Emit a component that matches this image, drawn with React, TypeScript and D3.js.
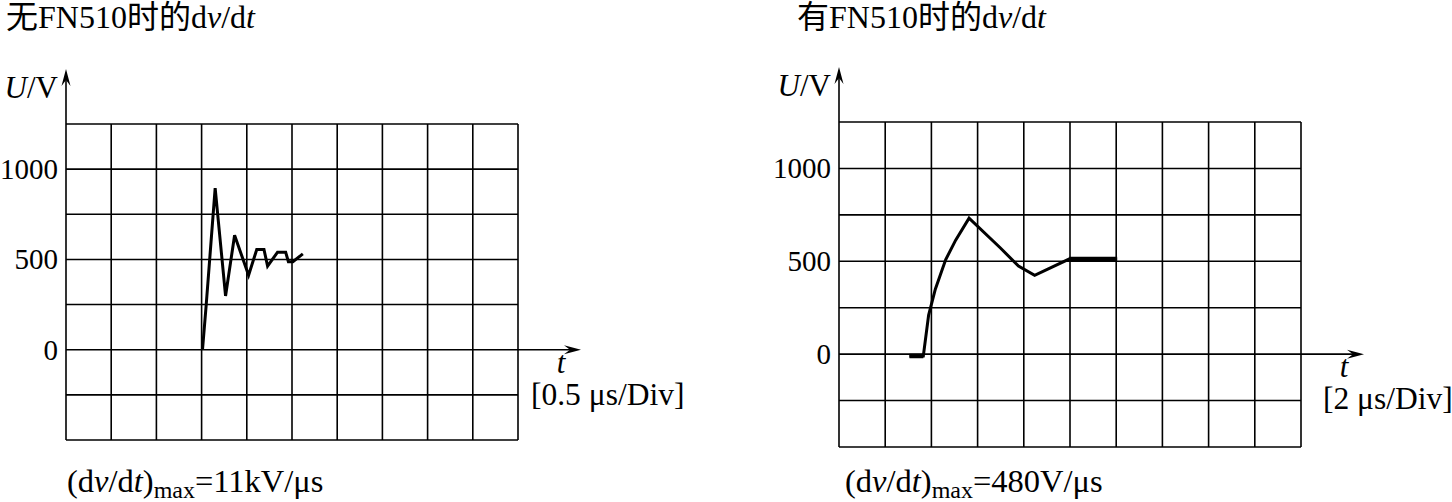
import React from 'react';
import * as d3 from 'd3';

// waveform without the filter (0.5 us/div)
const LEFT_T = [1.51, 1.55, 1.65, 1.765, 1.865, 2.02, 2.11, 2.19, 2.23, 2.34, 2.43, 2.46, 2.51, 2.62];
const LEFT_U = [0, 243, 895, 298, 634, 412, 555, 555, 463, 540, 540, 487, 487, 531];

// waveform with the filter (2 us/div)
const RIGHT_T = [3.05, 3.65, 3.88, 4.17, 4.37, 4.62, 5.05, 5.63, 7.0, 7.77, 8.47, 9.96, 12.04];
const RIGHT_U = [-10, -10, 210, 350, 421, 509, 614, 732, 570, 474, 424, 512, 512];

const Y_TICKS = [0, 500, 1000];
const Y_MIN = -500;
const Y_MAX = 1250;
const DIVS_X = 10;

const FONT = '"Liberation Serif", "Times New Roman", "Noto Sans CJK SC", serif';

interface PanelProps {
  left: number;
  top: number;
  width: number;
  height: number;
  tMax: number;
  t: number[];
  u: number[];
  thick?: [number, number][];
  title: string;
  titleX: number;
  divLabel: string;
  divX: number;
  rateValue: string;
  rateX: number;
}

function Arrow({ x, y, dir }: { x: number; y: number; dir: 'up' | 'right' }) {
  const rot = dir === 'up' ? -90 : 0;
  return (
    <path
      d="M0,0 L-17,-4.5 L-11,0 L-17,4.5 Z"
      transform={`translate(${x},${y}) rotate(${rot})`}
      fill="#000"
    />
  );
}

function Panel(p: PanelProps) {
  const x = d3.scaleLinear().domain([0, p.tMax]).range([p.left, p.left + p.width]);
  const y = d3.scaleLinear().domain([Y_MIN, Y_MAX]).range([p.top + p.height, p.top]);

  const xGrid = d3.range(DIVS_X + 1).map(i => (p.tMax / DIVS_X) * i);
  const yGrid = d3.range(Y_MIN, Y_MAX + 1, 250);

  const pts: [number, number][] = p.t.map((tv, i) => [tv, p.u[i]]);
  const line = d3.line<[number, number]>()
    .x(d => x(d[0]))
    .y(d => y(d[1]));

  const right = p.left + p.width;
  const bottom = p.top + p.height;
  const y0 = y(0);

  return (
    <g>
      <text x={p.titleX} y={28} fontSize={32} fontFamily={FONT}>
        {p.title}
        <tspan fontStyle="italic">v</tspan>/d<tspan fontStyle="italic">t</tspan>
      </text>

      {yGrid.map(v => (
        <line key={'h' + v} x1={p.left} x2={right} y1={y(v)} y2={y(v)} stroke="#000" strokeWidth={1.6} />
      ))}
      {xGrid.map(v => (
        <line key={'v' + v} x1={x(v)} x2={x(v)} y1={p.top} y2={bottom} stroke="#000" strokeWidth={1.6} />
      ))}

      {/* axes with arrows */}
      <line x1={p.left} x2={p.left} y1={p.top} y2={p.top - 50} stroke="#000" strokeWidth={1.6} />
      <Arrow x={p.left} y={p.top - 55} dir="up" />
      <line x1={right} x2={right + 58} y1={y0} y2={y0} stroke="#000" strokeWidth={1.6} />
      <Arrow x={right + 63} y={y0} dir="right" />

      {Y_TICKS.map(v => (
        <text key={'t' + v} x={p.left - 8} y={y(v) + 10} textAnchor="end" fontSize={29} fontFamily={FONT}>
          {v}
        </text>
      ))}

      <text x={p.left - 8} y={p.top - 26} textAnchor="end" fontSize={31} fontFamily={FONT}>
        <tspan fontStyle="italic">U</tspan>/V
      </text>
      <text x={right + 43} y={y0 + 23} textAnchor="middle" fontSize={31} fontStyle="italic" fontFamily={FONT}>
        t
      </text>
      <text x={p.divX} y={y0 + 55} fontSize={31.5} fontFamily={FONT}>
        {p.divLabel}
      </text>

      <path d={line(pts) || ''} fill="none" stroke="#000" strokeWidth={3} strokeLinejoin="miter" />
      {(p.thick || []).map(([a, b], i) => (
        <path key={'k' + i} d={line(pts.slice(a, b + 1)) || ''} fill="none" stroke="#000" strokeWidth={4.5} />
      ))}

      <text x={p.rateX} y={492} fontSize={32.5} fontFamily={FONT}>
        (d<tspan fontStyle="italic">v</tspan>/d<tspan fontStyle="italic">t</tspan>)
        <tspan fontSize={24} dy={6}>max</tspan>
        <tspan dy={-6}>{p.rateValue}</tspan>
      </text>
    </g>
  );
}

export default function App() {
  return (
    <svg
      width={1452}
      height={502}
      style={{ position: 'absolute', left: 0, top: 0, background: '#fff' }}
    >
      <rect width={1452} height={502} fill="#fff" />
      <Panel
        left={66}
        top={124}
        width={452}
        height={316}
        tMax={5}
        t={LEFT_T}
        u={LEFT_U}
        title="无FN510时的d"
        titleX={6}
        divLabel="[0.5 μs/Div]"
        divX={531}
        rateValue="=11kV/μs"
        rateX={67}
      />
      <Panel
        left={839}
        top={122}
        width={462}
        height={325}
        tMax={20}
        t={RIGHT_T}
        u={RIGHT_U}
        thick={[[0, 1], [11, 12]]}
        title="有FN510时的d"
        titleX={797}
        divLabel="[2 μs/Div]"
        divX={1323}
        rateValue="=480V/μs"
        rateX={845}
      />
    </svg>
  );
}
